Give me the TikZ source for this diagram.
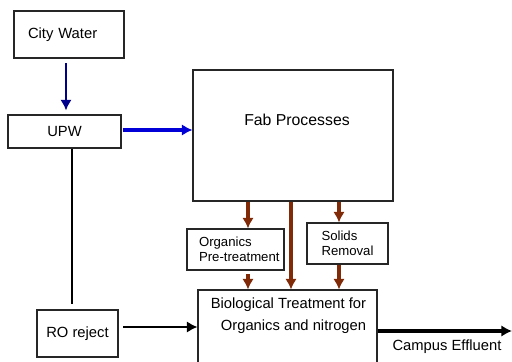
\documentclass[tikz,border=0pt]{standalone}
\usepackage{fontspec}
\setmainfont{Liberation Sans}
\usetikzlibrary{arrows.meta}

\definecolor{navyflow}{RGB}{0,0,140}
\definecolor{upwblue}{RGB}{0,0,215}
\definecolor{wastebrown}{RGB}{128,42,8}

\tikzset{
  unit/.style={draw=black!85, line width=0.6pt, inner sep=0pt},
  flow/.style={-{Latex[length=6pt,width=6.5pt]}},
  small/.style={font=\fontsize{7.5}{8.5}\selectfont, align=left},
}

\begin{document}
\begin{tikzpicture}[x=0.02cm, y=-0.02cm, font=\fontsize{8.4}{10}\selectfont]
  \clip (0,0) rectangle (512,362);

  % boxes
  \node[unit, line width=1.3pt, minimum width=2.2cm, minimum height=0.94cm, text width=1.64cm, align=left] (city) at (69,34.5) {\mbox{City Water}};
  \node[unit, minimum width=2.26cm, minimum height=0.66cm] (upw) at (64.5,131.5) {UPW};
  \node[unit, minimum width=4cm, minimum height=2.62cm] (fab) at (293,135.5) {};
  \node[font=\fontsize{9}{11}\selectfont] (fabtxt) at (297,120) {Fab Processes};
  \node[unit, small, minimum width=1.94cm, minimum height=0.82cm, text width=1.46cm] (org) at (235.5,249.5) {Organics\\\mbox{Pre-treatment}};
  \node[unit, small, minimum width=1.62cm, minimum height=0.82cm] (sol) at (347.5,243.5) {Solids\\Removal};
  \node[unit, minimum width=1.62cm, minimum height=0.94cm] (ro) at (77.5,333.5) {RO reject};
  \node[unit, minimum width=3.58cm, minimum height=2cm] (bio) at (287.5,340) {};
  \node[align=right, font=\fontsize{8.4}{12.5}\selectfont] (biotxt) at (288.5,316) {Biological Treatment for\\ Organics and nitrogen};

  \coordinate (eff) at (512,331);
  \node (efftxt) at (447,347) {Campus Effluent};

  % water side
  \draw[flow, navyflow, line width=1.5pt, shorten <=2.3pt, shorten >=2.3pt] (66,0 |- city.south) -- (66,0 |- upw.north);
  \draw[flow, upwblue, line width=2.2pt, shorten <=1pt] (upw.east |- 0,130) -- (fab.west |- 0,130);
  \draw[line width=0.6pt] (72,0 |- upw.south) -- (72,304);
  \draw[flow, line width=1.5pt, shorten <=2.8pt] (ro.east |- 0,327) -- (bio.west |- 0,327);
  \draw[flow, line width=2.5pt] (bio.east |- eff) -- (eff);

  % waste side
  \draw[flow, wastebrown, line width=2.2pt] (248,0 |- fab.south) -- (248,0 |- org.north);
  \draw[flow, wastebrown, line width=2.2pt, shorten <=2pt] (248,0 |- org.south) -- (248,0 |- bio.north);
  \draw[flow, wastebrown, line width=2.8pt] (291,0 |- fab.south) -- (291,0 |- bio.north);
  \draw[flow, wastebrown, line width=1.8pt] (339,0 |- fab.south) -- (339,0 |- sol.north);
  \draw[flow, wastebrown, line width=1.8pt] (339,0 |- sol.south) -- (339,0 |- bio.north);
\end{tikzpicture}
\end{document}
